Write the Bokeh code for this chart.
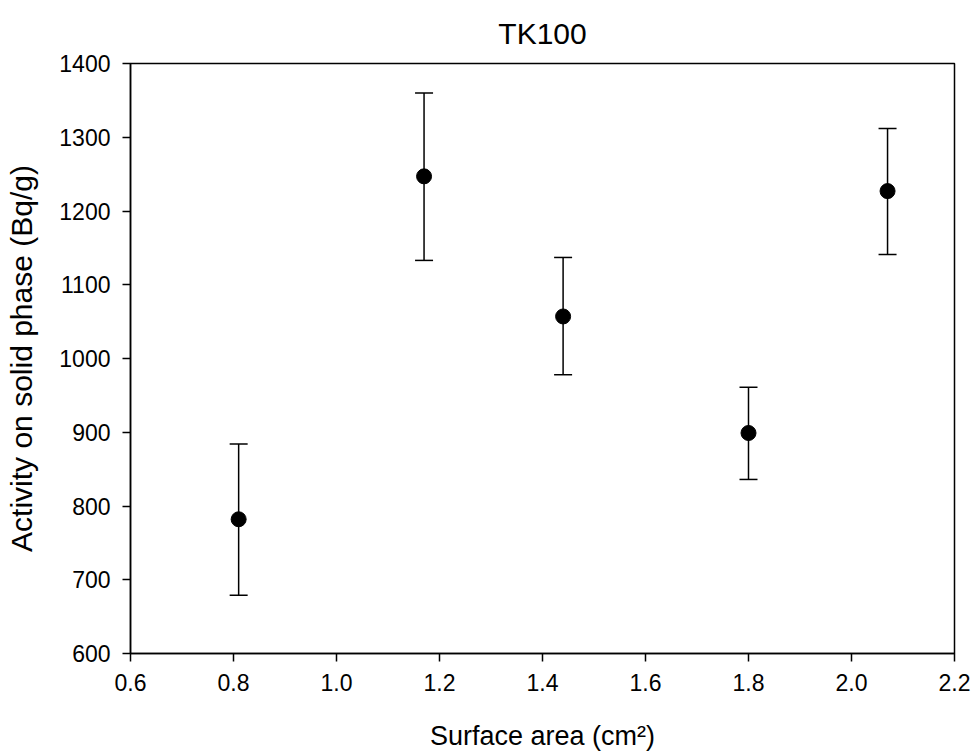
from bokeh.plotting import figure
from bokeh.models import ColumnDataSource, Whisker, TeeHead, FixedTicker, Range1d, CustomJSTickFormatter
from bokeh.embed import file_html
from bokeh.resources import INLINE

surface_area = [0.81, 1.17, 1.44, 1.80, 2.07]
activity = [782, 1247, 1057, 899, 1227]
err_low = [679, 1133, 978, 836, 1141]
err_high = [884, 1360, 1137, 961, 1312]

x_ticks = [0.6, 0.8, 1.0, 1.2, 1.4, 1.6, 1.8, 2.0, 2.2]
y_ticks = [600, 700, 800, 900, 1000, 1100, 1200, 1300, 1400]

FONT = "Liberation Sans"

src = ColumnDataSource(dict(x=surface_area, y=activity, lo=err_low, hi=err_high))

p = figure(width=974, height=754, output_backend="svg", toolbar_location=None,
           x_range=Range1d(0.6, 2.2), y_range=Range1d(600, 1400),
           title="TK100")
p.min_border_left = 130
p.min_border_right = 20
p.min_border_top = 63
p.min_border_bottom = 101

p.title.align = "center"
p.title.text_font = FONT
p.title.text_font_size = "30px"
p.title.text_font_style = "normal"
p.title.text_color = "black"
p.title.standoff = 28
p.title.text_line_height = 0.9

p.grid.visible = False
p.outline_line_color = "black"
p.outline_line_width = 1.5
p.outline_line_alpha = 1

for ax in (p.xaxis[0], p.yaxis[0]):
    ax.axis_line_color = "black"
    ax.axis_line_width = 1.5
    ax.major_tick_line_color = "black"
    ax.major_tick_line_width = 1.5
    ax.major_tick_out = 8
    ax.major_tick_in = 0
    ax.minor_tick_line_color = None
    ax.major_label_text_font = FONT
    ax.major_label_text_font_size = "23px"
    ax.major_label_text_color = "black"
    ax.axis_label_text_font = FONT
    ax.axis_label_text_font_style = "normal"
    ax.axis_label_text_color = "black"

p.xaxis.axis_label_text_font_size = "27px"
p.yaxis.axis_label_text_font_size = "30px"
p.xaxis.axis_label_text_line_height = 0.9
p.xaxis.ticker = FixedTicker(ticks=x_ticks)
p.yaxis.ticker = FixedTicker(ticks=y_ticks)
p.xaxis.formatter = CustomJSTickFormatter(code="return tick.toFixed(1);")
p.xaxis.axis_label = "Surface area (cm²)"
p.yaxis.axis_label = "Activity on solid phase (Bq/g)"
p.xaxis.major_label_standoff = 12
p.xaxis.axis_label_standoff = 27
p.yaxis.major_label_standoff = 12
p.yaxis.axis_label_standoff = 18

w = Whisker(source=src, base="x", lower="lo", upper="hi", dimension="height",
            line_color="black", line_width=1.5,
            upper_head=TeeHead(size=18, line_color="black", line_width=1.5),
            lower_head=TeeHead(size=18, line_color="black", line_width=1.5))
p.add_layout(w)

p.scatter("x", "y", source=src, size=15, color="black")

open("out.html", "w").write(file_html(p, INLINE))
